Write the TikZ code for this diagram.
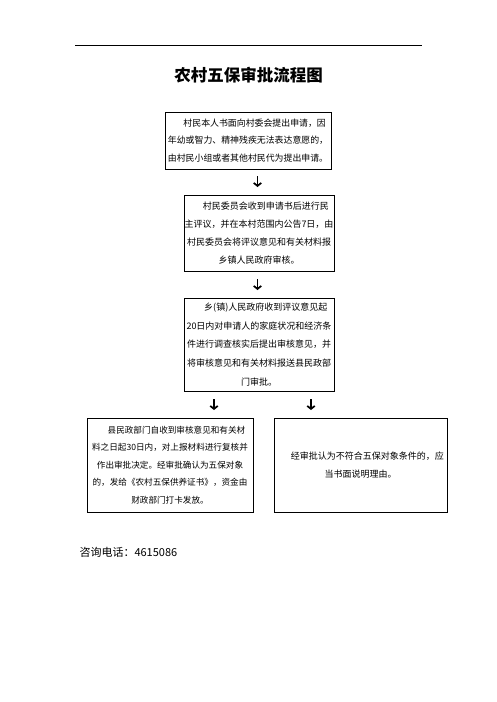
\documentclass[tikz,border=0pt]{standalone}
\usepackage{fontspec}
\setmainfont{Noto Sans CJK SC}
\usetikzlibrary{arrows.meta}

\begin{document}
\begin{tikzpicture}[x=1pt, y=-1pt,
  box/.style={draw, line width=0.9pt, align=center, inner sep=0pt, font=\fontsize{9}{18}\selectfont},
  arr/.style={line width=1.7pt, -{Straight Barb[length=3pt,width=7.5pt,line width=1.7pt]}}]
  \useasboundingbox (0,0) rectangle (496,702);

  % Top rule
  \draw[line width=0.8pt] (75,45) -- (422,45);

  % Title
  \node[font=\fontsize{16.5}{16.5}\selectfont\bfseries] (title) at (248.5,75) {农村五保审批流程图};

  % Steps
  \node[box, minimum width=166pt, minimum height=57pt, font=\fontsize{8.9}{17.5}\selectfont] (apply) at (248,140.5)
    {\hspace*{1.5em}村民本人书面向村委会提出申请，因\\年幼或智力、精神残疾无法表达意愿的，\\由村民小组或者其他村民代为提出申请。};
  \node[box, minimum width=150pt, minimum height=76pt] (village) at (259,233)
    {\hspace*{1.5em}村民委员会收到申请书后进行民\\主评议，并在本村范围内公告7日，由\\村民委员会将评议意见和有关材料报\\乡镇人民政府审核。};
  \node[box, minimum width=150pt, minimum height=93pt, font=\fontsize{9}{18.7}\selectfont] (town) at (259,344.5)
    {\hspace*{1.5em}乡(镇)人民政府收到评议意见起\\20日内对申请人的家庭状况和经济条\\件进行调查核实后提出审核意见，并\\将审核意见和有关材料报送县民政部\\门审批。};
  \node[box, minimum width=166pt, minimum height=94pt, font=\fontsize{8.6}{17.5}\selectfont] (county) at (170,465)
    {\hspace*{1.5em}县民政部门自收到审核意见和有关材\\料之日起30日内，对上报材料进行复核并\\作出审批决定。经审批确认为五保对象\\的，发给《农村五保供养证书》，资金由\\财政部门打卡发放。};
  \node[box, minimum width=173pt, minimum height=94pt] (reject) at (360.5,465)
    {\hspace*{1.5em}经审批认为不符合五保对象条件的，应\\当书面说明理由。};

  % Arrows
  \coordinate (a1s) at (257.5,176); \coordinate (a1e) at (257.5,187);
  \coordinate (a2s) at (257.5,279); \coordinate (a2e) at (257.5,290);
  \coordinate (a3s) at (214,399); \coordinate (a3e) at (214,410);
  \coordinate (a4s) at (311,399); \coordinate (a4e) at (311,410);
  \draw[arr] (a1s) -- (a1e);
  \draw[arr] (a2s) -- (a2e);
  \draw[arr] (a3s) -- (a3e);
  \draw[arr] (a4s) -- (a4e);

  % Phone
  \node[anchor=west, font=\fontsize{11}{11}\selectfont] (phone) at (76,552) {咨询电话：4615086};
\end{tikzpicture}
\end{document}
